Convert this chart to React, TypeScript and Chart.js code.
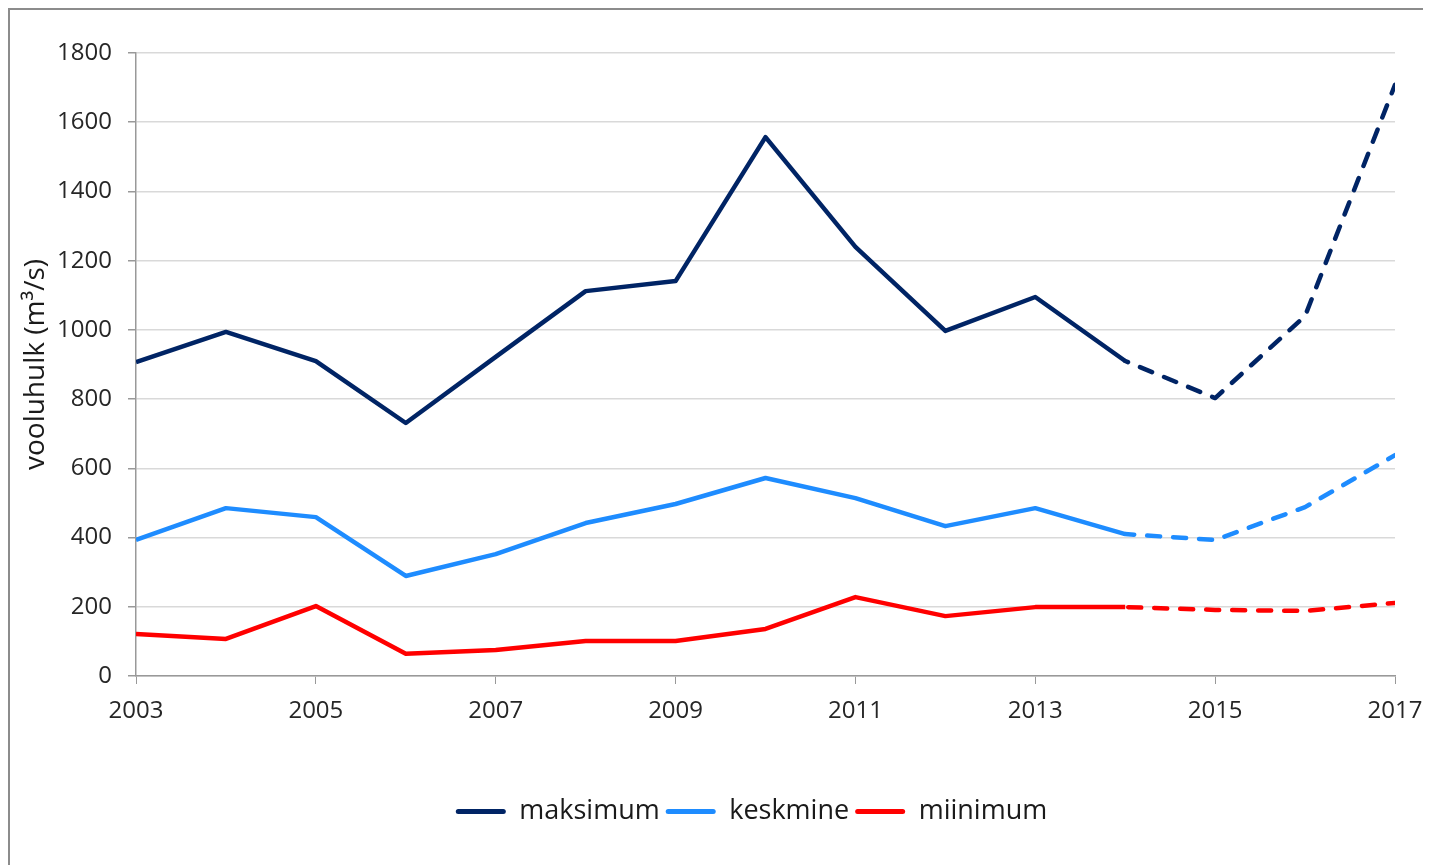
import React, { useEffect, useRef } from "react";
import { Chart, registerables } from "chart.js";

Chart.register(...registerables);

const years = [2003, 2004, 2005, 2006, 2007, 2008, 2009, 2010, 2011, 2012, 2013, 2014, 2015, 2016, 2017];
const maksimum = [907, 994, 910, 731, 922, 1112, 1141, 1557, 1240, 997, 1095, 910, 803, 1040, 1708];
const keskmine = [393, 485, 459, 289, 352, 442, 497, 572, 514, 433, 485, 410, 393, 488, 638];
const miinimum = [121, 107, 202, 64, 75, 101, 101, 136, 228, 173, 199, 199, 191, 188, 211];
const seriesNames = ["maksimum", "keskmine", "miinimum"];
const dashFromYear = 2014;
const yAxisTitle = "vooluhulk (m³/s)";

const colors = ["#002465", "#1E8CFF", "#FF0000"];
const dashOffsets = [10, 4, -3];
const FONT = "'Open Sans', sans-serif";

const legendShift = {
  id: "legendShift",
  afterLayout(chart: any) {
    const l = chart.legend;
    if (l) {
      l.left -= 14;
      l.right -= 14;
    }
  },
};

export default function App() {
  const ref = useRef<HTMLCanvasElement | null>(null);

  useEffect(() => {
    document.body.style.overflow = "hidden";
    document.documentElement.style.overflow = "hidden";
    if (!ref.current) return;
    const series = [maksimum, keskmine, miinimum];
    const chart = new Chart(ref.current, {
      type: "line",
      plugins: [legendShift],
      data: {
        datasets: series.map((vals, i) => ({
          label: seriesNames[i],
          data: years.map((y, j) => ({ x: y, y: vals[j] })),
          borderColor: colors[i],
          backgroundColor: colors[i],
          borderWidth: 4.5,
          pointRadius: 0,
          tension: 0,
          borderJoinStyle: "round" as const,
          segment: {
            borderDash: (ctx: any) => (ctx.p0.parsed.x >= dashFromYear ? [13, 13] : undefined),
            borderDashOffset: (ctx: any) => (ctx.p0.parsed.x >= dashFromYear ? dashOffsets[i] : 0),
            borderCapStyle: (ctx: any) => (ctx.p0.parsed.x >= dashFromYear ? "round" : "butt"),
          },
        })),
      },
      options: {
        animation: false,
        responsive: true,
        maintainAspectRatio: false,
        layout: { padding: { left: 0, top: 43, right: 36, bottom: 30 } },
        plugins: {
          tooltip: { enabled: false },
          legend: {
            position: "bottom",
            fullSize: false,
            labels: {
              font: { family: FONT, size: 27 },
              color: "#1a1a1a",
              boxWidth: 50,
              boxHeight: 5,
              padding: 6,
              useBorderRadius: true,
              borderRadius: 2.5,
              generateLabels: (c: any) =>
                Chart.defaults.plugins.legend.labels.generateLabels(c).map((l: any) => ({
                  ...l,
                  lineWidth: 0,
                  lineDash: [],
                  fillStyle: l.strokeStyle,
                })),
            },
          },
        },
        scales: {
          x: {
            type: "linear",
            min: 2003,
            max: 2017,
            afterFit: (s: any) => {
              s.height = 116;
              s.paddingLeft = 0;
              s.paddingRight = 0;
            },
            ticks: {
              stepSize: 2,
              padding: 13,
              font: { family: FONT, size: 24 },
              color: "#262626",
              callback: (v: any) => String(v),
              maxRotation: 0,
            },
            grid: {
              color: "rgba(0,0,0,0)",
              tickColor: "#999999",
              tickLength: 8,
              drawTicks: true,
            },
            border: { color: "#999999", width: 1.5 },
          },
          y: {
            min: 0,
            max: 1800,
            afterFit: (s: any) => {
              s.width = 126;
            },
            ticks: {
              stepSize: 200,
              padding: 16,
              font: { family: FONT, size: 24 },
              color: "#262626",
              callback: (v: any) => String(v),
            },
            grid: {
              color: "#d9d9d9",
              lineWidth: 1.5,
              tickColor: "#999999",
              tickLength: 8,
            },
            border: { color: "#999999", width: 1.5 },
            title: {
              display: true,
              text: yAxisTitle,
              font: { family: FONT, size: 28 },
              color: "#1a1a1a",
              padding: { top: 9, bottom: 0 },
            },
          },
        },
      },
    });
    return () => {
      chart.destroy();
    };
  }, []);

  return (
    <div
      style={{
        width: 1423,
        height: 857,
        boxSizing: "border-box",
        borderTop: "2px solid #8c8c8c",
        borderLeft: "2px solid #8c8c8c",
        background: "#fff",
      }}
    >
      <div style={{ position: "relative", width: 1421, height: 855 }}>
        <canvas ref={ref} />
      </div>
    </div>
  );
}
